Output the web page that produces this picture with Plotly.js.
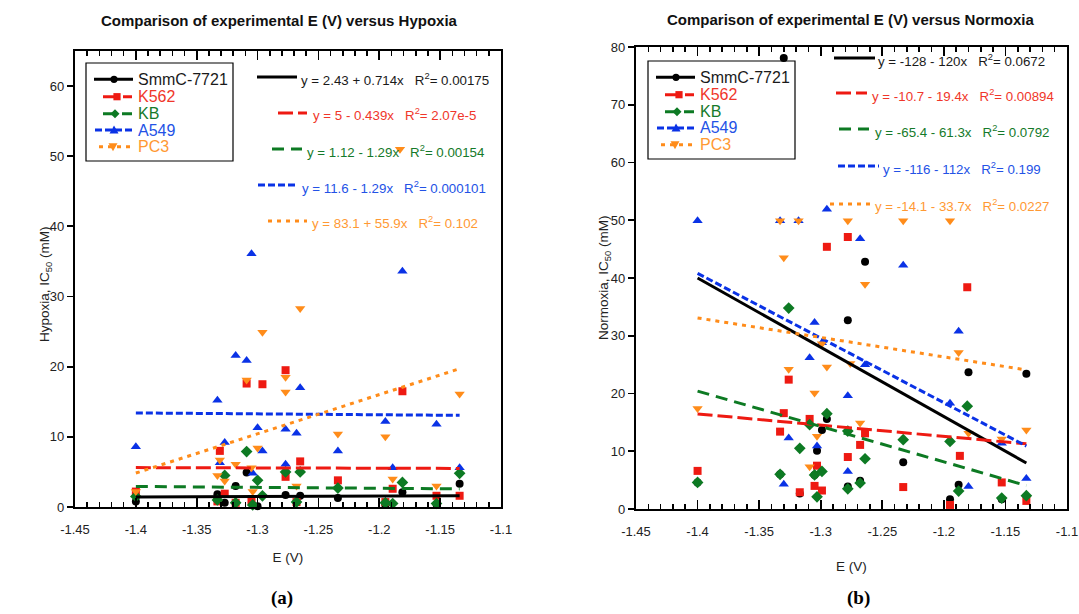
<!DOCTYPE html>
<html>
<head>
<meta charset="utf-8">
<script src="https://cdn.plot.ly/plotly-3.0.1.min.js"></script>
<style>html,body{margin:0;padding:0;background:#fff;}#chart{width:1079px;height:614px;}</style>
</head>
<body>
<div id="chart"></div>
<script>
// ---------- DATA ----------
const seriesNames = ['SmmC-7721', 'K562', 'KB', 'A549', 'PC3'];
const xTickVals = [-1.45, -1.4, -1.35, -1.3, -1.25, -1.2, -1.15, -1.1];
const xTickText = ['-1.45', '-1.4', '-1.35', '-1.3', '-1.25', '-1.2', '-1.15', '-1.1'];

// Hypoxia (panel a)
const hypSmmC_E  = [-1.4, -1.333, -1.327, -1.318, -1.309, -1.3, -1.277, -1.265, -1.234, -1.195, -1.181, -1.153, -1.134];
const hypSmmC_IC = [0.8, 1.8, 0.6, 3.0, 4.9, 0.1, 1.7, 1.6, 1.3, 0.3, 2.1, 0.4, 3.3];
const hypK562_E  = [-1.4, -1.333, -1.331, -1.327, -1.318, -1.309, -1.305, -1.296, -1.277, -1.277, -1.268, -1.265, -1.234, -1.195, -1.189, -1.181, -1.153, -1.134];
const hypK562_IC = [2.2, 0.8, 8.0, 1.9, 0.6, 17.6, 1.0, 17.5, 19.5, 4.3, 0.7, 6.5, 3.8, 0.7, 2.6, 16.5, 1.6, 1.6];
const hypKB_E    = [-1.4, -1.333, -1.327, -1.318, -1.309, -1.304, -1.3, -1.296, -1.277, -1.268, -1.265, -1.234, -1.195, -1.189, -1.181, -1.153, -1.134];
const hypKB_IC   = [1.5, 1.0, 4.5, 0.6, 7.9, 0.3, 3.8, 1.6, 5.0, 0.7, 5.0, 2.7, 0.6, 0.5, 3.5, 0.5, 4.8];
const hypA549_E  = [-1.4, -1.333, -1.331, -1.327, -1.318, -1.309, -1.305, -1.304, -1.3, -1.296, -1.277, -1.277, -1.268, -1.265, -1.234, -1.195, -1.189, -1.181, -1.153, -1.134];
const hypA549_IC = [8.6, 15.2, 6.3, 9.2, 21.6, 20.9, 36.1, 4.8, 11.3, 8.0, 11.1, 6.1, 10.5, 17.0, 8.0, 12.2, 5.6, 33.6, 11.8, 5.6];
const hypPC3_E   = [-1.4, -1.333, -1.331, -1.327, -1.318, -1.309, -1.305, -1.304, -1.3, -1.296, -1.277, -1.277, -1.268, -1.265, -1.234, -1.195, -1.189, -1.183, -1.153, -1.134];
const hypPC3_IC  = [2.2, 4.5, 6.7, 3.7, 6.1, 18.1, 5.6, 2.2, 8.4, 24.9, 18.5, 16.4, 3.0, 28.3, 10.4, 10.0, 4.0, 51.0, 3.0, 16.1];

// Normoxia (panel b)
const norSmmC_E  = [-1.4, -1.333, -1.330, -1.317, -1.305, -1.303, -1.299, -1.295, -1.278, -1.278, -1.268, -1.264, -1.233, -1.195, -1.188, -1.180, -1.153, -1.133];
const norSmmC_IC = [4.6, 6.0, 78.1, 2.7, 5.9, 10.1, 13.7, 15.6, 32.7, 3.9, 4.9, 42.8, 8.1, 1.7, 4.2, 23.7, 1.7, 23.4];
const norK562_E  = [-1.4, -1.333, -1.330, -1.326, -1.317, -1.309, -1.305, -1.303, -1.299, -1.295, -1.278, -1.278, -1.268, -1.264, -1.233, -1.195, -1.187, -1.181, -1.153, -1.133];
const norK562_IC = [6.6, 13.4, 16.6, 22.4, 2.9, 15.6, 4.0, 7.5, 3.2, 45.4, 47.1, 9.0, 11.1, 13.1, 3.8, 0.7, 9.2, 38.4, 4.6, 1.4];
const norKB_E    = [-1.4, -1.333, -1.326, -1.317, -1.309, -1.305, -1.303, -1.299, -1.295, -1.278, -1.278, -1.268, -1.264, -1.233, -1.195, -1.188, -1.181, -1.153, -1.133];
const norKB_IC   = [4.6, 6.0, 34.8, 10.5, 14.6, 5.9, 2.1, 6.5, 16.5, 13.5, 3.5, 4.5, 8.7, 12.0, 11.7, 3.1, 17.8, 1.9, 2.3];
const norA549_E  = [-1.4, -1.333, -1.330, -1.326, -1.318, -1.309, -1.305, -1.303, -1.299, -1.295, -1.278, -1.278, -1.268, -1.264, -1.233, -1.195, -1.188, -1.180, -1.153, -1.133];
const norA549_IC = [49.9, 49.9, 4.3, 12.3, 49.9, 26.2, 32.3, 10.9, 28.8, 51.9, 19.6, 6.5, 46.8, 25.0, 42.2, 18.3, 30.8, 3.9, 11.4, 5.3];
const norPC3_E   = [-1.4, -1.333, -1.330, -1.326, -1.318, -1.309, -1.305, -1.303, -1.299, -1.295, -1.278, -1.276, -1.268, -1.264, -1.233, -1.195, -1.188, -1.180, -1.153, -1.133];
const norPC3_IC  = [17.4, 49.9, 43.5, 24.2, 49.9, 7.3, 20.1, 12.6, 28.6, 24.6, 49.9, 25.2, 14.9, 38.9, 49.9, 49.9, 27.1, 13.1, 12.1, 13.7];

// Linear fits (intercept, slope) and R^2 as printed
const hypIntercept = [2.43, 5, 1.12, 11.6, 83.1];
const hypSlope     = [0.714, -0.439, -1.29, -1.29, 55.9];
const hypEqText    = ['y = 2.43 + 0.714x', 'y = 5 - 0.439x', 'y = 1.12 - 1.29x', 'y = 11.6 - 1.29x', 'y = 83.1 + 55.9x'];
const hypR2Text    = ['0.00175', '2.07e-5', '0.00154', '0.000101', '0.102'];
const norIntercept = [-128, -10.7, -65.4, -116, -14.1];
const norSlope     = [-120, -19.4, -61.3, -112, -33.7];
const norEqText    = ['y = -128 - 120x', 'y = -10.7 - 19.4x', 'y = -65.4 - 61.3x', 'y = -116 - 112x', 'y = -14.1 - 33.7x'];
const norR2Text    = ['0.0672', '0.00894', '0.0792', '0.199', '0.0227'];

// ---------- STYLE ----------
const W = 1079, H = 614;
const X = p => p / W;
const Y = p => 1 - p / H;
const colors = ['#000000', '#ee1a12', '#0d7a23', '#0a32e6', '#ff8c1a'];
const textColors = ['#1a1a1a', '#f0362a', '#157a2a', '#2352e6', '#ff9933'];
const symbols = ['circle', 'square', 'diamond', 'triangle-up', 'triangle-down'];
const msizes = [8, 8, 9, 9, 9];
const dashes = ['solid', '15px,5px', '12px,7px', '7px,3px', '4px,5px'];
const FONT = 'Liberation Sans, Arial, sans-serif';

const hypE = [hypSmmC_E, hypK562_E, hypKB_E, hypA549_E, hypPC3_E];
const hypIC = [hypSmmC_IC, hypK562_IC, hypKB_IC, hypA549_IC, hypPC3_IC];
const norE = [norSmmC_E, norK562_E, norKB_E, norA549_E, norPC3_E];
const norIC = [norSmmC_IC, norK562_IC, norKB_IC, norA549_IC, norPC3_IC];

const traces = [];
function addPanel(Es, ICs, b0, b1, xa, ya) {
  for (let i = 0; i < 5; i++) {
    traces.push({
      type: 'scatter', mode: 'markers', x: Es[i], y: ICs[i], xaxis: xa, yaxis: ya,
      name: seriesNames[i], showlegend: false, cliponaxis: false,
      marker: {symbol: symbols[i], size: msizes[i], color: colors[i], line: {width: 0}}
    });
  }
  for (let i = 0; i < 5; i++) {
    const xmin = Math.min(...Es[i]), xmax = Math.max(...Es[i]);
    traces.push({
      type: 'scatter', mode: 'lines', x: [xmin, xmax], y: [b0[i] + b1[i] * xmin, b0[i] + b1[i] * xmax],
      xaxis: xa, yaxis: ya, showlegend: false, hoverinfo: 'skip',
      line: {color: colors[i], width: 3, dash: dashes[i]}
    });
  }
}
addPanel(hypE, hypIC, hypIntercept, hypSlope, 'x', 'y');
addPanel(norE, norIC, norIntercept, norSlope, 'x2', 'y2');

const shapes = [];
const annotations = [];

// Manual legends
function addLegend(ox, oy) {
  shapes.push({type: 'rect', xref: 'paper', yref: 'paper', x0: X(ox), x1: X(ox + 147), y0: Y(oy), y1: Y(oy + 98),
    line: {color: '#000', width: 1.2}, fillcolor: 'rgba(255,255,255,0)'});
  const rowY = [16.3, 33.7, 50.7, 67, 83.7];
  const seg = [[8, 47], [17, 46], [17, 46], [9, 47], [13, 46]];
  const mx = [28, 31, 29, 28, 27];
  for (let i = 0; i < 5; i++) {
    const cy = oy + rowY[i];
    shapes.push({type: 'line', xref: 'paper', yref: 'paper', x0: X(ox + seg[i][0]), x1: X(ox + seg[i][1]), y0: Y(cy), y1: Y(cy),
      line: {color: colors[i], width: 3, dash: dashes[i]}});
    const cx = ox + mx[i];
    const r = 3.6;
    let shp;
    if (i === 0) shp = {type: 'circle', x0: X(cx - r), x1: X(cx + r), y0: Y(cy - r), y1: Y(cy + r)};
    else if (i === 1) shp = {type: 'rect', x0: X(cx - r), x1: X(cx + r), y0: Y(cy - r), y1: Y(cy + r)};
    else if (i === 2) shp = {type: 'path', path: `M ${X(cx)} ${Y(cy - 4.5)} L ${X(cx + 4.5)} ${Y(cy)} L ${X(cx)} ${Y(cy + 4.5)} L ${X(cx - 4.5)} ${Y(cy)} Z`};
    else if (i === 3) shp = {type: 'path', path: `M ${X(cx)} ${Y(cy - 4.5)} L ${X(cx + 4.5)} ${Y(cy + 3.5)} L ${X(cx - 4.5)} ${Y(cy + 3.5)} Z`};
    else shp = {type: 'path', path: `M ${X(cx)} ${Y(cy + 4.5)} L ${X(cx + 4.5)} ${Y(cy - 3.5)} L ${X(cx - 4.5)} ${Y(cy - 3.5)} Z`};
    Object.assign(shp, {xref: 'paper', yref: 'paper', fillcolor: colors[i], line: {width: 0}});
    shapes.push(shp);
    annotations.push({xref: 'paper', yref: 'paper', x: X(ox + 50), y: Y(cy), xanchor: 'left', yanchor: 'middle',
      text: seriesNames[i], showarrow: false, font: {family: FONT, size: 16, color: textColors[i]}});
  }
}
addLegend(86, 63);
addLegend(648, 61);

// Equation labels
function addEquations(rowsY, segs, textX, eqs, r2s) {
  for (let i = 0; i < 5; i++) {
    shapes.push({type: 'line', xref: 'paper', yref: 'paper', x0: X(segs[i][0]), x1: X(segs[i][1]), y0: Y(rowsY[i] - 2), y1: Y(rowsY[i] - 2),
      line: {color: colors[i], width: 3, dash: dashes[i]}});
    annotations.push({xref: 'paper', yref: 'paper', x: X(textX[i]), y: Y(rowsY[i]), xanchor: 'left', yanchor: 'middle',
      text: eqs[i] + '&nbsp;&nbsp;&nbsp;R<sup>2</sup>= ' + r2s[i], showarrow: false,
      font: {family: FONT, size: 13.3, color: textColors[i]}});
  }
}
addEquations([79, 115, 151, 187, 223], [[257, 297], [278, 307], [272, 302], [258, 298], [268, 307]], [299, 311, 305, 300, 310], hypEqText, hypR2Text);
addEquations([60, 95, 131, 168, 206], [[834, 875], [836, 867], [839, 869], [838, 879], [830, 871]], [876, 870, 873, 881, 873], norEqText, norR2Text);

// Titles, axis titles and panel labels
annotations.push({xref: 'paper', yref: 'paper', x: X(279), y: Y(20), xanchor: 'center', yanchor: 'middle', showarrow: false,
  text: '<b>Comparison of experimental E (V) versus Hypoxia</b>', font: {family: FONT, size: 15, color: '#111'}});
annotations.push({xref: 'paper', yref: 'paper', x: X(850), y: Y(19), xanchor: 'center', yanchor: 'middle', showarrow: false,
  text: '<b>Comparison of experimental E (V) versus Normoxia</b>', font: {family: FONT, size: 15, color: '#111'}});
annotations.push({xref: 'paper', yref: 'paper', x: X(45), y: Y(284), xanchor: 'center', yanchor: 'middle', showarrow: false, textangle: -90,
  text: 'Hypoxia, IC<sub>50</sub> (mM)', font: {family: FONT, size: 13.5, color: '#222'}});
annotations.push({xref: 'paper', yref: 'paper', x: X(604), y: Y(278), xanchor: 'center', yanchor: 'middle', showarrow: false, textangle: -90,
  text: 'Normoxia, IC<sub>50</sub> (mM)', font: {family: FONT, size: 13.5, color: '#222'}});
annotations.push({xref: 'paper', yref: 'paper', x: X(282), y: Y(598), xanchor: 'center', yanchor: 'middle', showarrow: false,
  text: '<b>(a)</b>', font: {family: 'Liberation Serif, Times New Roman, serif', size: 19, color: '#000'}});
annotations.push({xref: 'paper', yref: 'paper', x: X(858), y: Y(598), xanchor: 'center', yanchor: 'middle', showarrow: false,
  text: '<b>(b)</b>', font: {family: 'Liberation Serif, Times New Roman, serif', size: 19, color: '#000'}});

// minor tick positions every 0.01 across the axis range
const minorTicks = [];
for (let k = 0; k <= 35; k++) { if (k % 5 !== 0) minorTicks.push(-1.45 + k * 0.01); }

function xAxis(domain, anchor, standoff) {
  return {
    domain: domain, anchor: anchor, range: [-1.45, -1.1], tickmode: 'array', tickvals: xTickVals, ticktext: xTickText,
    ticks: 'inside', ticklen: 9, tickwidth: 1.8, tickcolor: '#000', mirror: 'ticks', showline: true, linecolor: '#000', linewidth: 2.2,
    showgrid: false, zeroline: false, ticklabelstandoff: 9,
    tickfont: {family: FONT, size: 13, color: '#222'},
    minor: {tickmode: 'array', tickvals: minorTicks, ticks: 'inside', ticklen: 5, tickwidth: 1.6, tickcolor: '#000', showgrid: false},
    title: {text: 'E (V)', font: {family: FONT, size: 13.5, color: '#222'}, standoff: standoff}
  };
}
function yAxis(domain, anchor, maxv) {
  return {
    domain: domain, anchor: anchor, range: [0, maxv], tickmode: 'linear', tick0: 0, dtick: 10,
    ticks: 'outside', ticklen: 6, tickwidth: 1.8, tickcolor: '#000', mirror: true, showline: true, linecolor: '#000', linewidth: 2.2,
    showgrid: false, zeroline: false,
    tickfont: {family: FONT, size: 13, color: '#222'}
  };
}

const layout = {
  width: W, height: H, margin: {l: 0, r: 0, t: 0, b: 0},
  paper_bgcolor: '#fff', plot_bgcolor: '#fff', showlegend: false,
  xaxis: xAxis([X(75), X(501)], 'y', 17),
  yaxis: yAxis([Y(507), Y(51)], 'x', 65),
  xaxis2: xAxis([X(636), X(1067)], 'y2', 24),
  yaxis2: yAxis([Y(509), Y(47)], 'x2', 80),
  shapes: shapes, annotations: annotations
};

Plotly.newPlot('chart', traces, layout, {staticPlot: true, displayModeBar: false});
</script>
</body>
</html>
